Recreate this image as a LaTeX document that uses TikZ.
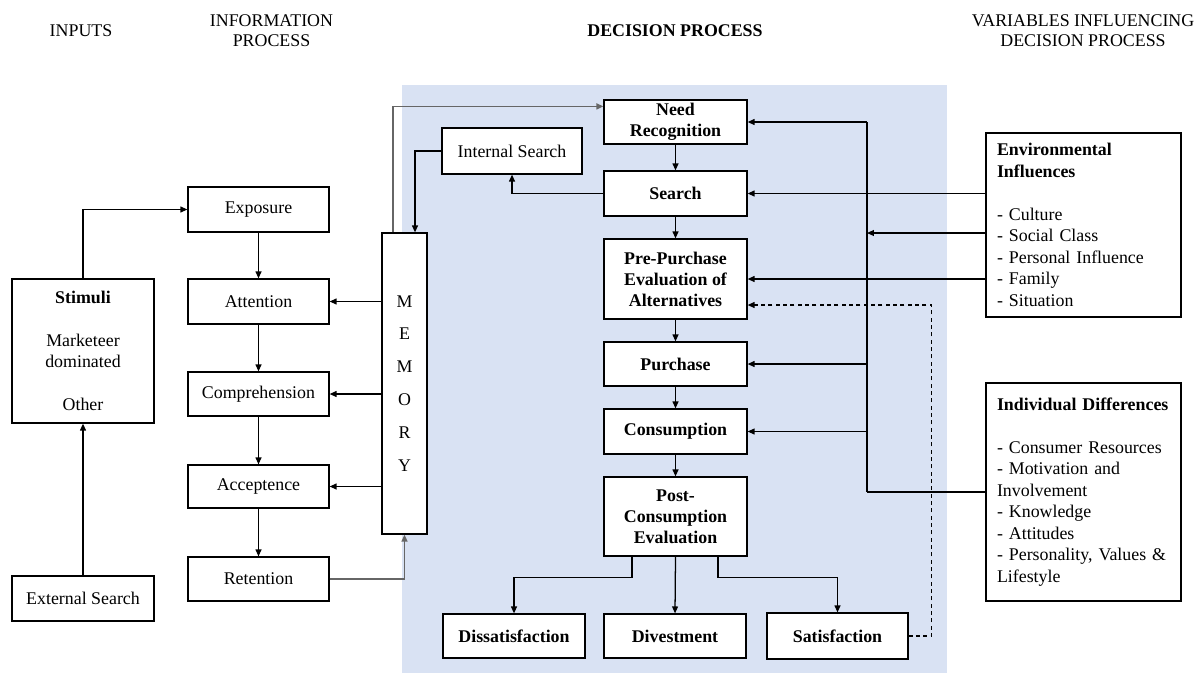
\documentclass[tikz,border=0pt]{standalone}
\usepackage{fontspec}
\setmainfont{Liberation Serif}
\usetikzlibrary{arrows.meta,calc}
\definecolor{panel}{HTML}{D9E2F3}
\begin{document}
\begin{tikzpicture}[x=0.75pt,y=-0.75pt,
  font=\fontsize{13.4pt}{16.1pt}\selectfont,
  box/.style 2 args={draw, line width=0.9pt, fill=white, minimum width=#1*0.75pt,
    minimum height=#2*0.75pt, align=center, inner sep=0pt},
  bf/.style={font=\fontsize{13.4pt}{15.7pt}\selectfont\bfseries},
  hd/.style={align=center, font=\fontsize{13.4pt}{15pt}\selectfont},
  arr/.style={-{Triangle[length=5.2pt,width=4.4pt]}, line width=0.95pt},
  link/.style={line width=0.95pt},
  greyarr/.style={arr, draw=black!60, line width=1.3pt},
  feedback/.style={arr, dash pattern=on 3pt off 2.5pt},
  listbox/.style={align=left, text width=173*0.75pt, inner xsep=11*0.75pt},
]
\useasboundingbox (0,0) rectangle (1201,675);

% shaded decision-process panel
\fill[panel] (402,85) rectangle (947,673);

% column headings
\node[hd] (hin) at (81,31) {INPUTS};
\node[hd] (hinfo) at (271.5,31) {INFORMATION\\PROCESS};
\node[hd] (hdec) at (675,31) {\bfseries DECISION PROCESS};
\node[hd] (hvar) at (1083,31) {VARIABLES INFLUENCING\\DECISION PROCESS};

% inputs
\node[box={142}{144}] (stim) at (83,351)
  {\textbf{Stimuli}\\[16.1pt]Marketeer\\dominated\\[16.1pt]Other};
\node[box={142}{45}] (ext) at (83,598.5) {External Search};

% information process
\node[box={141}{45}] (expo) at (258.5,209.5) {Exposure};
\node[box={141}{45}] (atten) at (258.5,301.5) {Attention};
\node[box={141}{44}] (compr) at (258.5,394) {Comprehension};
\node[box={141}{43}] (accep) at (258.5,486.5) {Acceptence};
\node[box={141}{44}] (reten) at (258.5,579) {Retention};
\node[box={45}{301}] (mem) at (404.5,383.5)
  {M\\[8.6pt]E\\[8.6pt]M\\[8.6pt]O\\[8.6pt]R\\[8.6pt]Y};

% decision process
\node[box={140}{46}] (intsearch) at (512,151) {Internal Search};
\node[box={143}{44},bf] (need) at (675.5,122) {Need\\Recognition};
\node[box={143}{45},bf] (search) at (675.5,193.5) {Search};
\node[box={143}{80},bf] (pre) at (675.5,279) {Pre-Purchase\\Evaluation of\\Alternatives};
\node[box={143}{44},bf] (purch) at (675.5,364) {Purchase};
\node[box={143}{45},bf] (consum) at (675.5,431.5) {Consumption};
\node[box={143}{79},bf] (post) at (675.5,516.5) {Post-\\Consumption\\Evaluation};
\node[box={142}{44},bf] (dissat) at (514,636) {Dissatisfaction};
\node[box={142}{44},bf] (divest) at (675,636) {Divestment};
\node[box={141}{46},bf] (satis) at (837.5,636) {Satisfaction};

% influencing variables
\node[box={195}{184},listbox] (env) at (1083.5,225)
  {\textbf{Environmental}\\\textbf{Influences}\\[16.1pt]- Culture\\- Social Class\\
   - Personal Influence\\- Family\\- Situation};
\node[box={195}{218},listbox] (indiv) at (1083.5,492)
  {\mbox{\textbf{Individual Differences}}\\[16.1pt]\mbox{- Consumer Resources}\\
   - Motivation and\\Involvement\\- Knowledge\\- Attitudes\\
   \mbox{- Personality, Values \&}\\Lifestyle};

% inputs to information process
\draw[arr] (stim.north) |- (expo.west);
\draw[arr] (ext.north) -- (stim.south);

% information process chain
\draw[arr] (expo) -- (atten);
\draw[arr] (atten) -- (compr);
\draw[arr] (compr) -- (accep);
\draw[arr] (accep) -- (reten);

% memory links
\draw[arr] (mem.west |- atten.east) -- (atten.east);
\draw[arr] (mem.west |- compr.east) -- (compr.east);
\draw[arr] (mem.west |- accep.east) -- (accep.east);
\draw[greyarr] (reten.east) -| (mem.south);
\draw[greyarr] ($(mem.north)+(-11.5,0)$) |- ($(need.north west)+(0,7)$);
\draw[arr] (intsearch.west) -| ($(mem.north)+(10.5,0)$);
\draw[arr] (search.west) -| (intsearch.south);

% decision process chain
\draw[arr] (need) -- (search);
\draw[arr] (search) -- (pre);
\draw[arr] (pre) -- (purch);
\draw[arr] (purch) -- (consum);
\draw[arr] (consum) -- (post);
\draw[arr] ($(post.south)+(-43.5,0)$) -- ++(0,21) -| (dissat.north);
\draw[arr] (post.south) -- (divest.north);
\draw[arr] ($(post.south)+(42.5,0)$) -- ++(0,21) -| (satis.north);

% influence bus
\coordinate (bustop) at (867,122);
\coordinate (busbot) at (867,492);
\coordinate (envout) at ($(env.west)+(0,8)$);
\draw[link] (bustop) -- (busbot);
\draw[arr] (bustop) -- (need.east);
\draw[link] (indiv.west) -- (busbot);
\draw[arr] (envout) -- (envout -| bustop);
\draw[arr] (env.west |- search.east) -- (search.east);
\draw[arr] (env.west |- pre.east) -- (pre.east);
\draw[arr] (bustop |- purch.east) -- (purch.east);
\draw[arr] (bustop |- consum.east) -- (consum.east);

% satisfaction feedback
\draw[feedback] (satis.east) -- ++(23,0) |- ($(pre.east)+(0,26)$);
\end{tikzpicture}
\end{document}
